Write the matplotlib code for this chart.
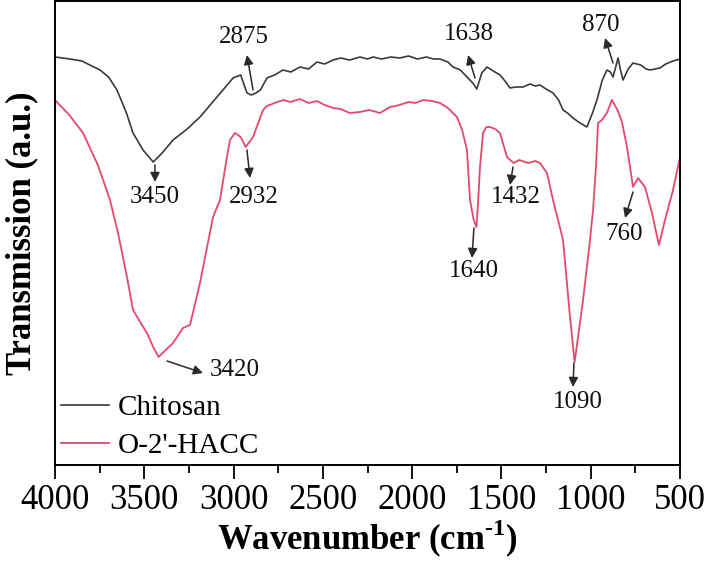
import matplotlib
matplotlib.use("Agg")
import matplotlib.pyplot as plt
from matplotlib.ticker import MultipleLocator

# ---- data (wavenumber cm^-1, transmission a.u.) ----
chitosan_w = [4000, 3916, 3850, 3748, 3700, 3653, 3600, 3563, 3507, 3450, 3400, 3339, 3260, 3188, 3093,
              3003, 2960, 2925, 2900, 2875, 2850, 2813, 2770, 2723, 2680, 2628, 2580,
              2533, 2490, 2443, 2400, 2350, 2292, 2250, 2219, 2170, 2120, 2070, 2020,
              1970, 1920, 1880, 1844, 1800, 1771, 1730, 1693, 1660, 1638, 1610, 1581,
              1545, 1508, 1480, 1452, 1420, 1379, 1340, 1310, 1284, 1250, 1211, 1180,
              1155, 1130, 1099, 1060, 1021, 990, 965, 935, 909, 890, 875, 860, 847,
              833, 819, 790, 763, 720, 690, 668, 640, 612, 580, 539, 500]
chitosan_t = [408, 406, 404, 395, 388, 375, 352, 332, 315, 303, 312, 325, 336, 348, 368,
              387, 390, 372, 370, 372, 375, 387, 390, 395, 393, 398, 396,
              403, 401, 405, 407, 405, 408, 406, 408, 406, 408, 407, 409,
              406, 408, 406, 406, 403, 398, 395, 388, 382, 376, 392, 398,
              394, 390, 384, 377, 378, 378, 381, 379, 380, 376, 372, 365,
              355, 352, 347, 342, 338, 352, 365, 385, 395, 393, 388, 398, 407,
              395, 385, 396, 402, 400, 396, 395, 396, 397, 401, 404, 406]

hacc_w = [4000, 3920, 3843, 3760, 3692, 3647, 3597, 3563, 3520, 3485, 3450, 3420, 3380,
          3339, 3283, 3244, 3188, 3115, 3076, 3040, 3020, 2992, 2960, 2932, 2891,
          2835, 2813, 2770, 2723, 2680, 2630, 2580, 2533, 2490, 2443, 2400, 2350,
          2292, 2240, 2180, 2124, 2070, 2020, 1980, 1939, 1890, 1844, 1800, 1749,
          1720, 1693, 1676, 1655, 1640, 1631, 1620, 1603, 1585, 1564, 1535, 1508,
          1469, 1432, 1400, 1350, 1310, 1284, 1245, 1211, 1155, 1116, 1090, 1043,
          1004, 987, 970, 959, 937, 910, 881, 850, 825, 797, 763, 735, 696, 657,
          618, 584, 539, 500]
hacc_t = [365, 350, 332, 300, 265, 232, 188, 155, 142, 132, 118, 108, 115,
          122, 137, 140, 182, 248, 265, 305, 325, 332, 328, 318, 328,
          355, 359, 362, 365, 363, 366, 362, 364, 360, 357, 356, 352,
          353, 355, 352, 358, 360, 363, 362, 365, 364, 362, 357, 348,
          335, 315, 265, 245, 238, 262, 298, 332, 338, 338, 336, 332,
          308, 302, 305, 302, 304, 302, 292, 265, 225, 148, 103, 165,
          225, 255, 300, 342, 345, 352, 365, 355, 343, 318, 278, 287, 278, 252,
          220, 245, 275, 308]

labels = ["Chitosan", "O-2'-HACC"]
colors = ["#3a3a3a", "#E5486E"]

# annotations: text, text position, arrow tail, arrow head (w, T)
ann_text = ["3450", "2932", "2875", "1638", "870", "1432", "1640", "1090", "760", "3420"]
ann_xy = [(3440, 268), (2886, 268), (2942, 428), (1682, 431), (942, 440),
          (1418, 268), (1654, 194), (1071, 63), (814, 231), (2992, 95)]
ann_tail = [(3440, 300), (2925, 315), (2891, 375), (1648, 387), (875, 402),
            (1435, 298), (1654, 237), (1094, 102), (763, 273), (3373, 104)]
ann_head = [(3440, 283), (2908, 287), (2925, 410), (1687, 410), (920, 427),
            (1452, 280), (1665, 207), (1099, 78), (808, 247), (3171, 92)]

xticks = [4000, 3500, 3000, 2500, 2000, 1500, 1000, 500]

# ---- plot ----
plt.rcParams['font.family'] = ['Liberation Serif', 'DejaVu Serif']
plt.rcParams['mathtext.fontset'] = 'custom'
plt.rcParams['mathtext.rm'] = 'Liberation Serif'
plt.rcParams['mathtext.bf'] = 'Liberation Serif:bold'

fig = plt.figure(figsize=(7.08, 5.65), dpi=100)
ax = fig.add_axes([55 / 708, 1 - 465 / 565, 625 / 708, 464 / 565])

ax.plot(chitosan_w, chitosan_t, color=colors[0], lw=1.2, label=labels[0])
ax.plot(hacc_w, hacc_t, color=colors[1], lw=1.3, label=labels[1])

for t, p, tail, head in zip(ann_text, ann_xy, ann_tail, ann_head):
    ax.annotate('', xy=head, xytext=tail,
                arrowprops=dict(arrowstyle='-|>', color='#2a2a2a', lw=1.1,
                                mutation_scale=14, shrinkA=0, shrinkB=0))
    ax.text(p[0], p[1], t, fontsize=18, ha='center', va='center', color='#111')

ax.set_xlim(4000, 500)
ax.set_ylim(0, 464)
ax.set_xticks(xticks)
ax.set_xticklabels([str(v) for v in xticks])
ax.xaxis.set_minor_locator(MultipleLocator(250))
ax.set_yticks([])
ax.tick_params(axis='x', which='major', direction='out', length=10, width=1.3,
               labelsize=25, pad=4)
ax.tick_params(axis='x', which='minor', direction='out', length=6, width=1.3)
for s in ax.spines.values():
    s.set_linewidth(1.4)

ax.set_xlabel("Wavenumber (cm$^{\\mathbf{\u2010}\\mathbf{1}}$)", fontsize=25,
              fontweight='bold', labelpad=0)
ax.set_ylabel("Transmission (a.u.)", fontsize=25, fontweight='bold', labelpad=12)

leg = ax.legend(loc='lower left', frameon=False,
                fontsize=21, handlelength=1.65, handletextpad=0.3,
                labelspacing=0.4, borderaxespad=0.0, borderpad=0.2)

fig.savefig("out.png", dpi=100)
